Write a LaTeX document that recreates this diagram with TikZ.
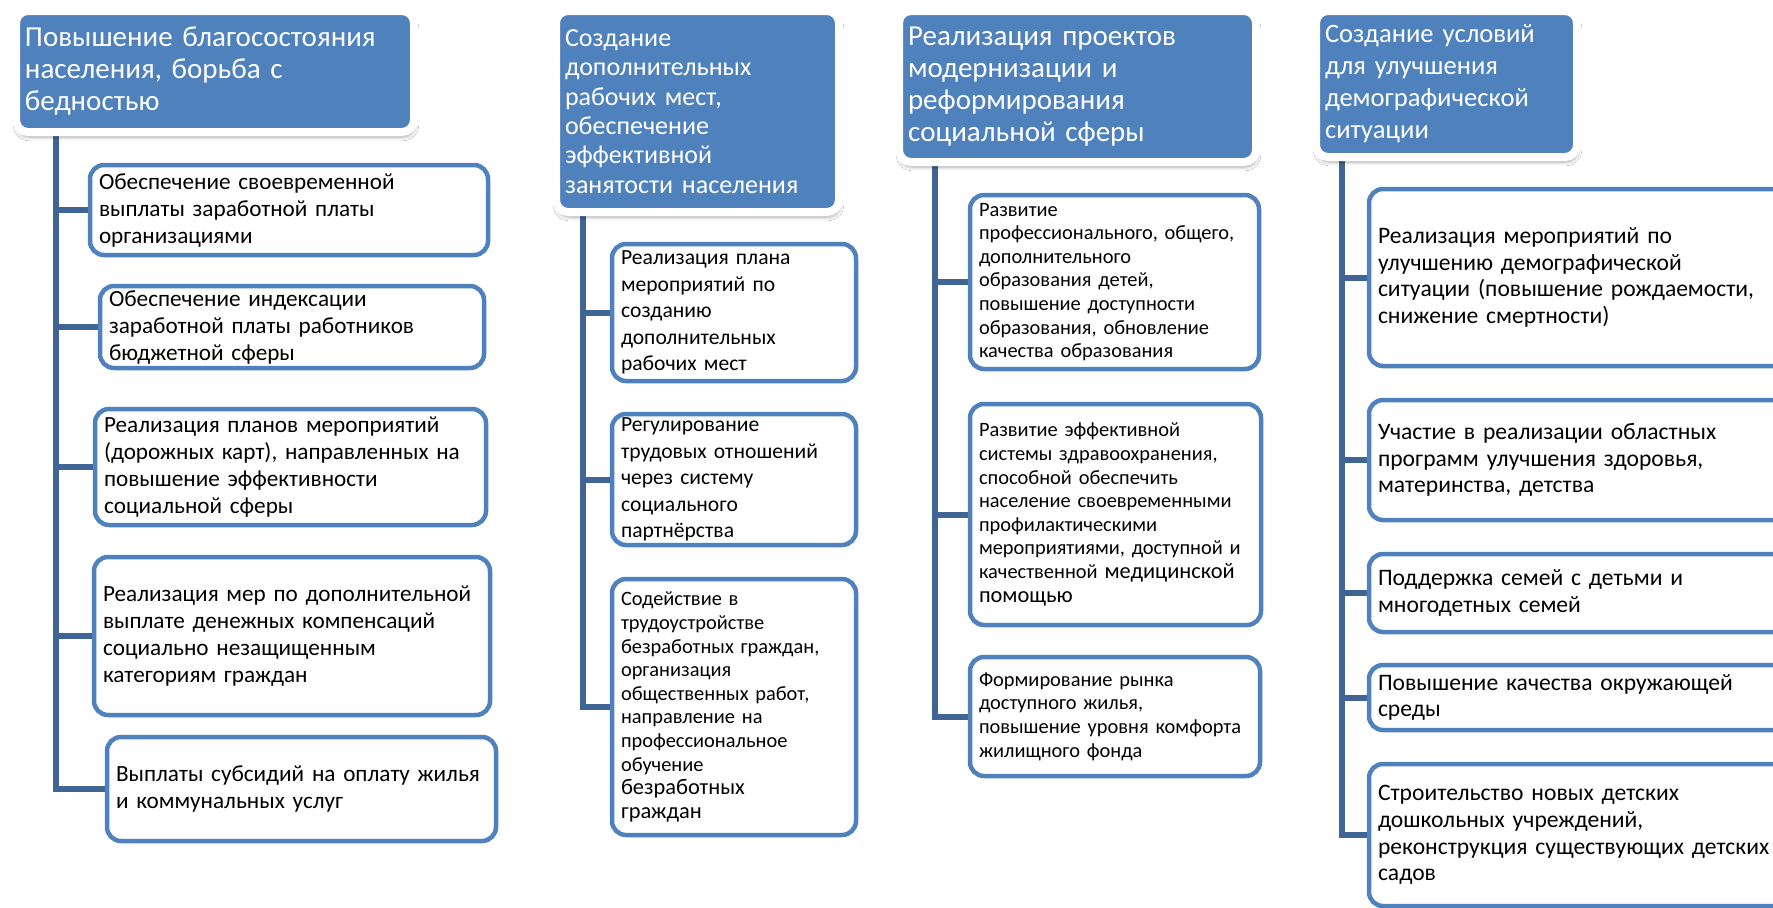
\documentclass[tikz,border=0pt]{standalone}
\usepackage{fontspec}
\setmainfont{Carlito}
\usetikzlibrary{shadows.blur,backgrounds}
\definecolor{headblue}{RGB}{79,129,189}
\definecolor{boxblue}{RGB}{79,129,189}
\definecolor{linkblue}{RGB}{64,100,148}
\newcommand{\bigtxt}{\fontsize{11.2pt}{13.5pt}\selectfont}
\begin{document}
\begin{tikzpicture}[
			x=0.5pt, y=-0.5pt,
			head/.style = {fill=headblue, draw=white, line width=4pt, rounded corners=6pt,
				text=white, align=left, anchor=north west, outer sep=0pt,
				inner xsep=4.5pt, inner ysep=0pt, font=\fontsize{14.5pt}{16pt}\selectfont,
				blur shadow={shadow xshift=0.5pt, shadow yshift=-2.5pt, shadow blur steps=6,
					shadow blur extra rounding=1.5pt, shadow opacity=35}},
			item/.style = {draw=boxblue, fill=white, line width=2.25pt, rounded corners=7pt,
				align=left, anchor=north west, outer sep=0pt, inner xsep=4.5pt, inner ysep=0pt},
			wide/.style = {item, font=\fontsize{11.6pt}{13.5pt}\selectfont},
			mid/.style = {item, font=\fontsize{10.8pt}{13.3pt}\selectfont},
			small/.style = {item, font=\fontsize{10.2pt}{11.8pt}\selectfont},
			link/.style = {draw=linkblue, line width=3pt},
			]
			\useasboundingbox (0,0) rectangle (1773,907);
			\clip (0,0) rectangle (1773,907);
			\node[head, text width=190pt, minimum height=60.5pt] (h1) at (16,11)
				{Повышение благосостояния\\населения, борьба с\\бедностью};
			\node[head, text width=132.5pt, minimum height=100.5pt, font=\fontsize{13pt}{14.7pt}\selectfont] (h2) at (556,11)
				{Создание\\дополнительных\\рабочих мест,\\обеспечение\\эффективной\\занятости населения};
			\node[head, text width=169.5pt, minimum height=75.5pt] (h3) at (899,11)
				{Реализация проектов\\модернизации и\\реформирования\\социальной сферы};
			\node[head, text width=121.5pt, minimum height=73pt, font=\fontsize{13.3pt}{16pt}\selectfont] (h4) at (1316,11)
				{Создание условий\\для улучшения\\демографической\\ситуации};

			\node[wide, text width=190pt, minimum height=45pt] (c11) at (90,165)
				{Обеспечение своевременной\\выплаты заработной платы\\организациями};
			\node[wide, text width=183pt, minimum height=41pt] (c12) at (100,286)
				{Обеспечение индексации\\заработной платы работников\\бюджетной сферы};
			\node[wide, text width=186.5pt, minimum height=58pt] (c13) at (95,409)
				{Реализация планов мероприятий\\(дорожных карт), направленных на\\повышение эффективности\\социальной сферы};
			\node[wide, text width=189pt, minimum height=79pt] (c14) at (94,557)
				{Реализация мер по дополнительной\\выплате денежных компенсаций\\социально незащищенным\\категориям граждан};
			\node[wide, text width=185.5pt, minimum height=52pt] (c15) at (107,737)
				{Выплаты субсидий на оплату жилья\\и коммунальных услуг};

			\node[mid, text width=113pt, minimum height=68.5pt] (c21) at (612,244)
				{Реализация плана\\мероприятий по\\созданию\\дополнительных\\рабочих мест};
			\node[mid, text width=113pt, minimum height=65.5pt] (c22) at (612,414)
				{Регулирование\\трудовых отношений\\через систему\\социального\\партнёрства};
			\node[small, text width=113pt, minimum height=128pt] (c23) at (612,579)
				{Содействие в\\трудоустройстве\\безработных граждан,\\организация\\общественных работ,\\направление на\\профессиональное\\обучение\\{\bigtxt безработных}\\{\bigtxt граждан}};

			\node[small, text width=135.5pt, minimum height=87pt] (c31) at (970,195)
				{Развитие\\профессионального, общего,\\дополнительного\\образования детей,\\повышение доступности\\образования, обновление\\качества образования};
			\node[small, text width=136.5pt, minimum height=110.5pt] (c32) at (970,404)
				{Развитие эффективной\\системы здравоохранения,\\способной обеспечить\\население своевременными\\профилактическими\\мероприятиями, доступной и\\качественной {\bigtxt медицинской}\\{\bigtxt помощью}};
			\node[small, text width=136pt, minimum height=59.5pt] (c33) at (970,657)
				{Формирование рынка\\доступного жилья,\\повышение уровня комфорта\\жилищного фонда};

			\node[wide, text width=211pt, minimum height=88.5pt, font=\fontsize{11.8pt}{13.3pt}\selectfont] (c41) at (1369,189)
				{Реализация мероприятий по\\улучшению демографической\\ситуации (повышение рождаемости,\\снижение смертности)};
			\node[wide, text width=211pt, minimum height=60pt, font=\fontsize{11.8pt}{13.3pt}\selectfont] (c42) at (1369,400)
				{Участие в реализации областных\\программ улучшения здоровья,\\материнства, детства};
			\node[wide, text width=211pt, minimum height=39pt, font=\fontsize{11.8pt}{13.3pt}\selectfont] (c43) at (1369,554)
				{Поддержка семей с детьми и\\многодетных семей};
			\node[wide, text width=211pt, minimum height=32.5pt, font=\fontsize{11.8pt}{13.3pt}\selectfont] (c44) at (1369,665)
				{Повышение качества окружающей\\среды};
			\node[wide, text width=211pt, minimum height=71pt, font=\fontsize{11.8pt}{13.3pt}\selectfont] (c45) at (1369,764)
				{Строительство новых детских\\дошкольных учреждений,\\реконструкция существующих детских\\садов};

			\begin{scope}[on background layer]
				\fill[white] (0,0) rectangle (1773,907);
				\foreach \c in {c11,c12,c13,c14,c15}
					\draw[link] ([xshift=20pt]h1.south west) |- (\c.west);
				\foreach \c in {c21,c22,c23}
					\draw[link] ([xshift=13.5pt]h2.south west) |- (\c.west);
				\foreach \c in {c31,c32,c33}
					\draw[link] ([xshift=18pt]h3.south west) |- (\c.west);
				\foreach \c in {c41,c42,c43,c44,c45}
					\draw[link] ([xshift=13pt]h4.south west) |- (\c.west);
			\end{scope}
		\end{tikzpicture}
\end{document}
